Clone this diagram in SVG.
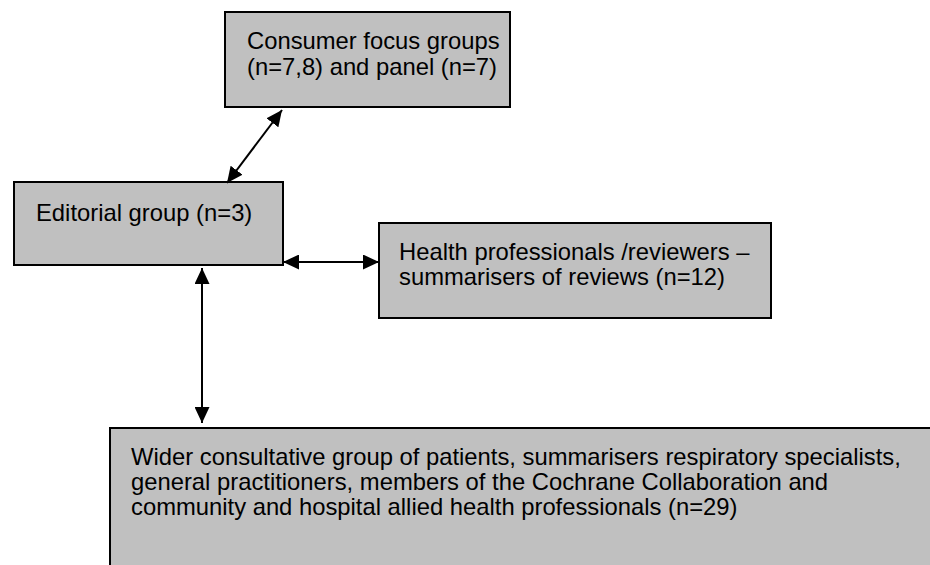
<svg xmlns="http://www.w3.org/2000/svg" width="930" height="565" viewBox="0 0 930 565">
  <style>
    .box { fill: #c0c0c0; stroke: #000; stroke-width: 2; }
    .lbl { font-family: "Liberation Sans", Arial, sans-serif; font-size: 24px; fill: #000; }
    .link { stroke: #000; stroke-width: 2; fill: none; marker-start: url(#head); marker-end: url(#head); }
  </style>
  <defs>
    <!-- filled arrowhead used at both ends of every link -->
    <marker id="head" viewBox="0 0 16 15" refX="16" refY="7.5" markerWidth="16" markerHeight="15" markerUnits="userSpaceOnUse" orient="auto-start-reverse">
      <path d="M0,0 L16,7.5 L0,15 Z" fill="#000"/>
    </marker>
  </defs>

  <g id="consumer-focus-groups">
    <rect class="box" x="225" y="12" width="285" height="95"/>
    <text class="lbl" x="247" y="49" textLength="252.6" lengthAdjust="spacingAndGlyphs">Consumer focus groups</text>
    <text class="lbl" x="247" y="75" textLength="250" lengthAdjust="spacingAndGlyphs">(n=7,8) and panel (n=7)</text>
  </g>

  <g id="editorial-group">
    <rect class="box" x="14" y="182" width="269" height="83"/>
    <text class="lbl" x="36" y="221" textLength="216.3" lengthAdjust="spacingAndGlyphs">Editorial group (n=3)</text>
  </g>

  <g id="health-professionals">
    <rect class="box" x="379" y="223" width="392" height="95"/>
    <text class="lbl" x="399" y="260" textLength="350.5" lengthAdjust="spacingAndGlyphs">Health professionals /reviewers –</text>
    <text class="lbl" x="399" y="285" textLength="326" lengthAdjust="spacingAndGlyphs">summarisers of reviews (n=12)</text>
  </g>

  <g id="wider-consultative-group">
    <rect class="box" x="110" y="428" width="830" height="150"/>
    <text class="lbl" x="131" y="465" textLength="769.8" lengthAdjust="spacingAndGlyphs">Wider consultative group of patients, summarisers respiratory specialists,</text>
    <text class="lbl" x="131" y="490" textLength="697.1" lengthAdjust="spacingAndGlyphs">general practitioners, members of the Cochrane Collaboration and</text>
    <text class="lbl" x="131" y="515" textLength="606.5" lengthAdjust="spacingAndGlyphs">community and hospital allied health professionals (n=29)</text>
  </g>

  <g id="connectors">
    <line class="link" x1="227" y1="183" x2="282" y2="110"/>
    <line class="link" x1="283" y1="262" x2="379" y2="262"/>
    <line class="link" x1="202" y1="268" x2="202" y2="423"/>
  </g>
</svg>
